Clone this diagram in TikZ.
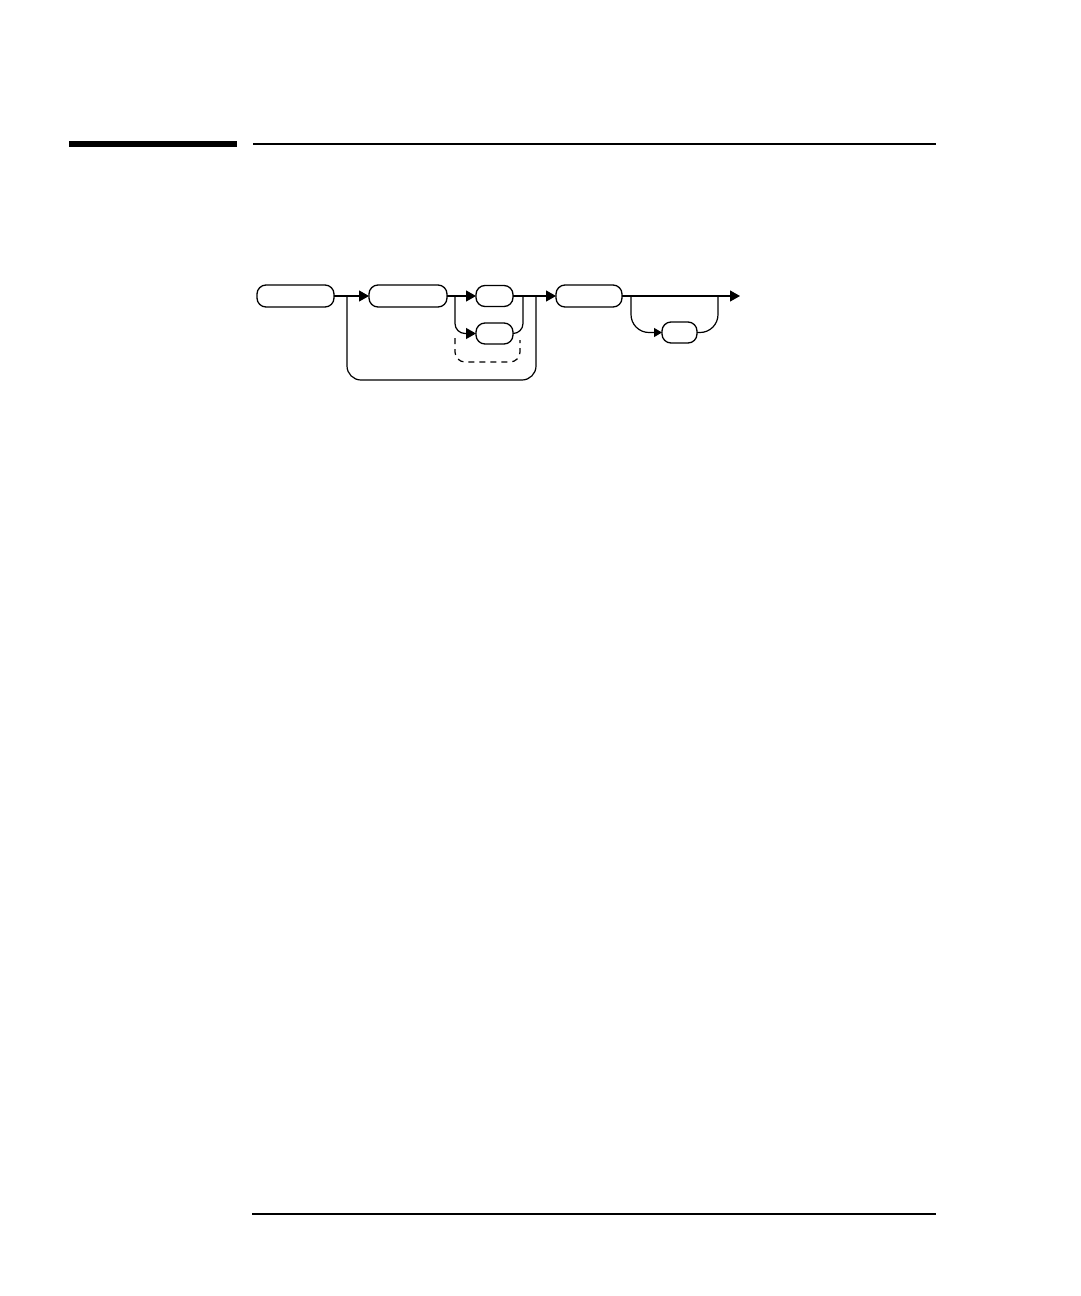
\documentclass[tikz,border=0pt]{standalone}
\usetikzlibrary{arrows.meta}
\begin{document}
\begin{tikzpicture}[x=1pt,y=-1pt,
  box/.style={draw,line width=1.3pt,rounded corners=9pt,inner sep=0pt,outer sep=0pt,minimum height=22pt},
  conn/.style={line width=1.2pt},
  arr/.style={conn,-{Triangle[length=10pt,width=11pt]}},
  sarr/.style={conn,-{Triangle[length=8pt,width=9pt]}}]
\useasboundingbox (0,0) rectangle (1080,1296);
% page rules
\fill (69,141) rectangle (237,147);
\draw[line width=1.3pt] (253,144) -- (936,144);
\draw[line width=1.3pt] (252,1214) -- (936,1214);
% boxes
\node[box,minimum width=77pt] (a) at (295.5,296) {};
\node[box,minimum width=78pt] (b) at (408,296) {};
\node[box,minimum width=37pt,minimum height=21pt] (c) at (494.5,296) {};
\node[box,minimum width=37pt,minimum height=21pt] (d) at (494.5,333.5) {};
\node[box,minimum width=66pt] (e) at (589,296) {};
\node[box,minimum width=35pt,minimum height=21pt] (f) at (679.5,332.5) {};
% junction coordinates
\coordinate (j1) at (347,296);
\coordinate (j2) at (455,296);
\coordinate (j3) at (523,296);
\coordinate (j4) at (536,296);
\coordinate (j5) at (631,296);
\coordinate (j6) at (718,296);
\coordinate (endpt) at (740,296);
\coordinate (dl) at (455,338);
\coordinate (dr) at (520,340);
% main line
\draw[arr] (a.east) -- (b.west);
\draw[arr] (b.east) -- (c.west);
\draw[arr] (c.east) -- (e.west);
\draw[arr] (e.east) -- (endpt);
% branches
\draw[arr,rounded corners=10pt] (j2) |- (d.west);
\draw[conn,rounded corners=10pt] (d.east) -| (j3);
\draw[conn,dashed,dash pattern=on 6pt off 5pt,rounded corners=10pt] (dl) |- (520,362) -- (dr);
\draw[conn,rounded corners=14pt] (j1) |- (450,380) -| (j4);
\draw[sarr,rounded corners=18pt] (j5) |- (f.west);
\draw[conn,rounded corners=18pt] (f.east) -| (j6);
\end{tikzpicture}
\end{document}
